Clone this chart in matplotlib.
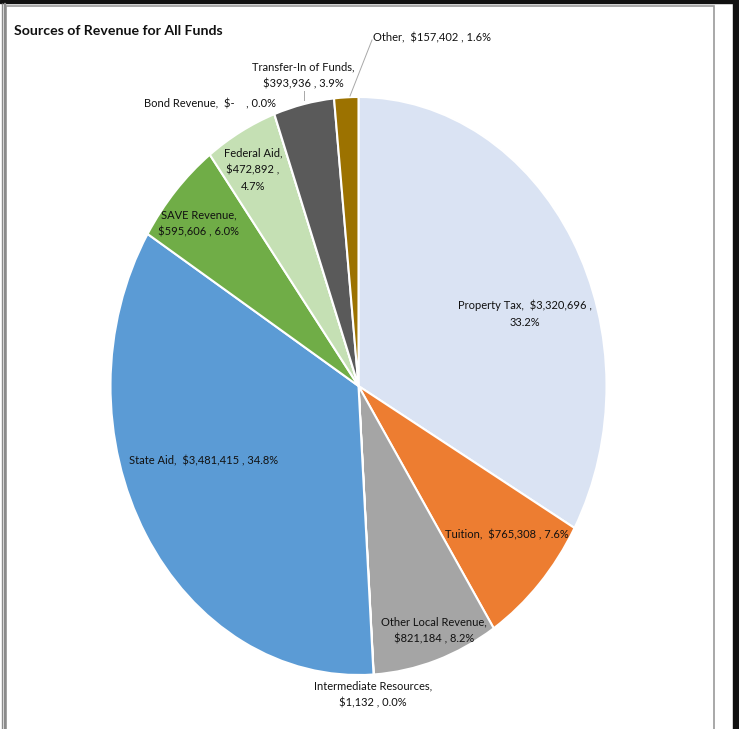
import numpy as np
import matplotlib.pyplot as plt
from matplotlib.patches import Rectangle

# revenue sources, clockwise from 12 o'clock
sources = ['Property Tax', 'Tuition', 'Other Local Revenue', 'Intermediate Resources',
           'State Aid', 'SAVE Revenue', 'Federal Aid', 'Bond Revenue',
           'Transfer-In of Funds', 'Other']
amounts = [3320696, 765308, 821184, 1132, 3481415, 595606, 472892, 0, 393936, 157402]
colors = ['#dae3f3', '#ed7d31', '#a5a5a5', '#ffc000', '#5b9bd5', '#70ad47',
          '#c5e0b4', '#264478', '#5a5a5a', '#9c7200']

total = float(sum(amounts))
pcts = [100.0 * a / total for a in amounts]


def money(v):
    return '$-   ' if v == 0 else '${:,}'.format(v)


texts = {}
for name, a, p in zip(sources, amounts, pcts):
    texts[name] = '{},  {} , {:.1f}%'.format(name, money(a), p)
texts['Property Tax'] = 'Property Tax,  {} ,\n{:.1f}%'.format(money(amounts[0]), pcts[0])
texts['Other Local Revenue'] = 'Other Local Revenue,\n{} , {:.1f}%'.format(money(amounts[2]), pcts[2])
texts['Intermediate Resources'] = 'Intermediate Resources,\n{} , {:.1f}%'.format(money(amounts[3]), pcts[3])
texts['SAVE Revenue'] = 'SAVE Revenue,\n{} , {:.1f}%'.format(money(amounts[5]), pcts[5])
texts['Federal Aid'] = 'Federal Aid,\n{} ,\n{:.1f}%'.format(money(amounts[6]), pcts[6])
texts['Transfer-In of Funds'] = 'Transfer-In of Funds,\n{} , {:.1f}%'.format(money(amounts[8]), pcts[8])

W, H = 739, 729
fig = plt.figure(figsize=(W / 100, H / 100), dpi=100)
plt.rcParams['font.family'] = ['Lato', 'DejaVu Sans']

# frame around the chart area
fig.patches.append(Rectangle((0, 1 - 3 / H), 1, 3 / H, transform=fig.transFigure,
                             color='#111111', zorder=0))
fig.patches.append(Rectangle((733 / W, 0), 6 / W, 1, transform=fig.transFigure,
                             color='#111111', zorder=0))
fig.patches.append(Rectangle((5.5 / W, -0.01), 708 / W, 1 - 5.5 / H + 0.01,
                             transform=fig.transFigure, fill=False,
                             edgecolor='#9a9a9a', lw=1.2, zorder=0))
for xl in (1.5, 4.0):
    fig.patches.append(Rectangle((xl / W, 0), 0.8 / W, 1 - 3 / H, transform=fig.transFigure,
                                 color='#8a8a8a', zorder=0))

# pie is drawn stretched (ellipse) like the source chart
cx, cy, rx, ry = 358.5, 386.0, 248.0, 289.0
ax = fig.add_axes([(cx - rx) / W, (H - cy - ry) / H, 2 * rx / W, 2 * ry / H])
ax.pie(amounts, colors=colors, startangle=90, counterclock=False,
       wedgeprops=dict(edgecolor='white', linewidth=1.5))
ax.set_aspect('auto')
ax.set_xlim(-1, 1)
ax.set_ylim(-1, 1)
ax.axis('off')


def px(x, y):
    return (x - cx) / rx, (cy - y) / ry


# label centres in pixel coordinates
label_pos = {
    'Property Tax': (525, 314, 'center'),
    'Tuition': (507, 535, 'center'),
    'Other Local Revenue': (434, 630, 'center'),
    'Intermediate Resources': (373, 694, 'center'),
    'State Aid': (204, 461, 'center'),
    'SAVE Revenue': (199, 223, 'center'),
    'Federal Aid': (253, 170, 'center'),
    'Bond Revenue': (210, 104, 'center'),
    'Transfer-In of Funds': (303, 75, 'center'),
    'Other': (373, 38, 'left'),
}
for name in sources:
    x, y, ha = label_pos[name]
    ax.text(*px(x, y), texts[name], ha=ha, va='center', fontsize=8,
            color='#111111', linespacing=1.65, clip_on=False)

# leader lines
ax.plot(*zip(px(372, 40), px(350, 96)), color='#a8a8a8', lw=0.7, clip_on=False)
ax.plot(*zip(px(304, 91), px(304, 100)), color='#a8a8a8', lw=0.7, clip_on=False)

fig.text(14 / W, 1 - 31 / H, 'Sources of Revenue for All Funds', fontsize=10.2,
         fontweight='bold', ha='left', va='center', color='#111111')

fig.savefig('out.png', dpi=100)
